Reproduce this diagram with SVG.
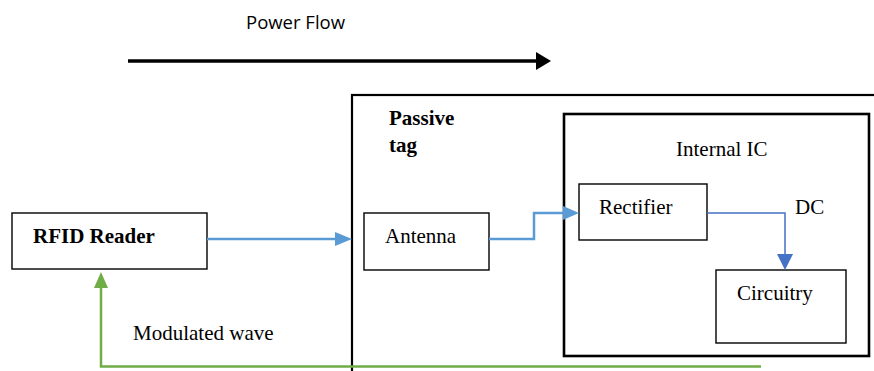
<svg xmlns="http://www.w3.org/2000/svg" width="874" height="371" viewBox="0 0 874 371">
  <defs>
    <style>
      .box { fill: #ffffff; stroke: #000000; stroke-width: 1.4; }
      .lbl { font-family: "Liberation Serif", "Times New Roman", serif; font-size: 21px; fill: #000000; }
      .bold { font-weight: bold; }
      .flow { font-family: "Open Sans", "Noto Sans", sans-serif; font-size: 18.5px; fill: #000000; }
      .blue { fill: none; stroke: #5b9bd5; stroke-width: 2.5; }
      .dc { fill: none; stroke: #4472c4; stroke-width: 1.5; }
      .green { fill: none; stroke: #70ad47; stroke-width: 2.5; }
    </style>
  </defs>
  <rect width="874" height="371" fill="#ffffff"/>

  <!-- power flow indicator -->
  <g id="power-flow">
    <text class="flow" x="246" y="29">Power Flow</text>
    <line x1="128" y1="61" x2="537" y2="61" stroke="#000" stroke-width="3.5"/>
    <polygon points="536,52 551,61 536,70" fill="#000"/>
  </g>

  <!-- passive tag enclosure -->
  <g id="passive-tag">
    <rect x="352" y="95" width="600" height="320" fill="none" stroke="#000" stroke-width="2.2"/>
    <text class="lbl bold" x="389" y="125">Passive</text>
    <text class="lbl bold" x="389" y="152">tag</text>
  </g>

  <!-- internal IC enclosure -->
  <g id="internal-ic">
    <rect x="564" y="114" width="305" height="242" fill="none" stroke="#000" stroke-width="2.6"/>
    <text class="lbl" x="676" y="156">Internal IC</text>
  </g>

  <g id="rfid-reader">
    <rect class="box" x="12" y="213" width="195" height="56"/>
    <text class="lbl bold" x="33" y="243">RFID Reader</text>
  </g>

  <g id="antenna">
    <rect class="box" x="364" y="213" width="125" height="57"/>
    <text class="lbl" x="385" y="243">Antenna</text>
  </g>

  <g id="rectifier">
    <rect class="box" x="579" y="184" width="128" height="56"/>
    <text class="lbl" x="599" y="214">Rectifier</text>
  </g>

  <g id="circuitry">
    <rect class="box" x="716" y="270" width="130" height="73"/>
    <text class="lbl" x="737" y="300">Circuitry</text>
  </g>

  <!-- connectors -->
  <g id="connectors">
    <!-- reader to antenna -->
    <line class="blue" x1="207" y1="239" x2="337" y2="239"/>
    <polygon points="335,232 352,239 335,246" fill="#5b9bd5"/>

    <!-- antenna to rectifier -->
    <polyline class="blue" points="489,239 534,239 534,213 565,213"/>
    <polygon points="563,206 579,213 563,220" fill="#5b9bd5"/>

    <!-- rectifier to circuitry (DC) -->
    <polyline class="dc" points="707,213 785,213 785,256"/>
    <polygon points="777,254 785,270 793,254" fill="#4472c4"/>
    <text class="lbl" x="795" y="214">DC</text>

    <!-- modulated wave back to reader -->
    <polyline class="green" points="761,366.5 101,366.5 101,286"/>
    <polygon points="94,288 101,272 108,288" fill="#70ad47"/>
    <text class="lbl" x="133" y="340">Modulated wave</text>
  </g>
</svg>
